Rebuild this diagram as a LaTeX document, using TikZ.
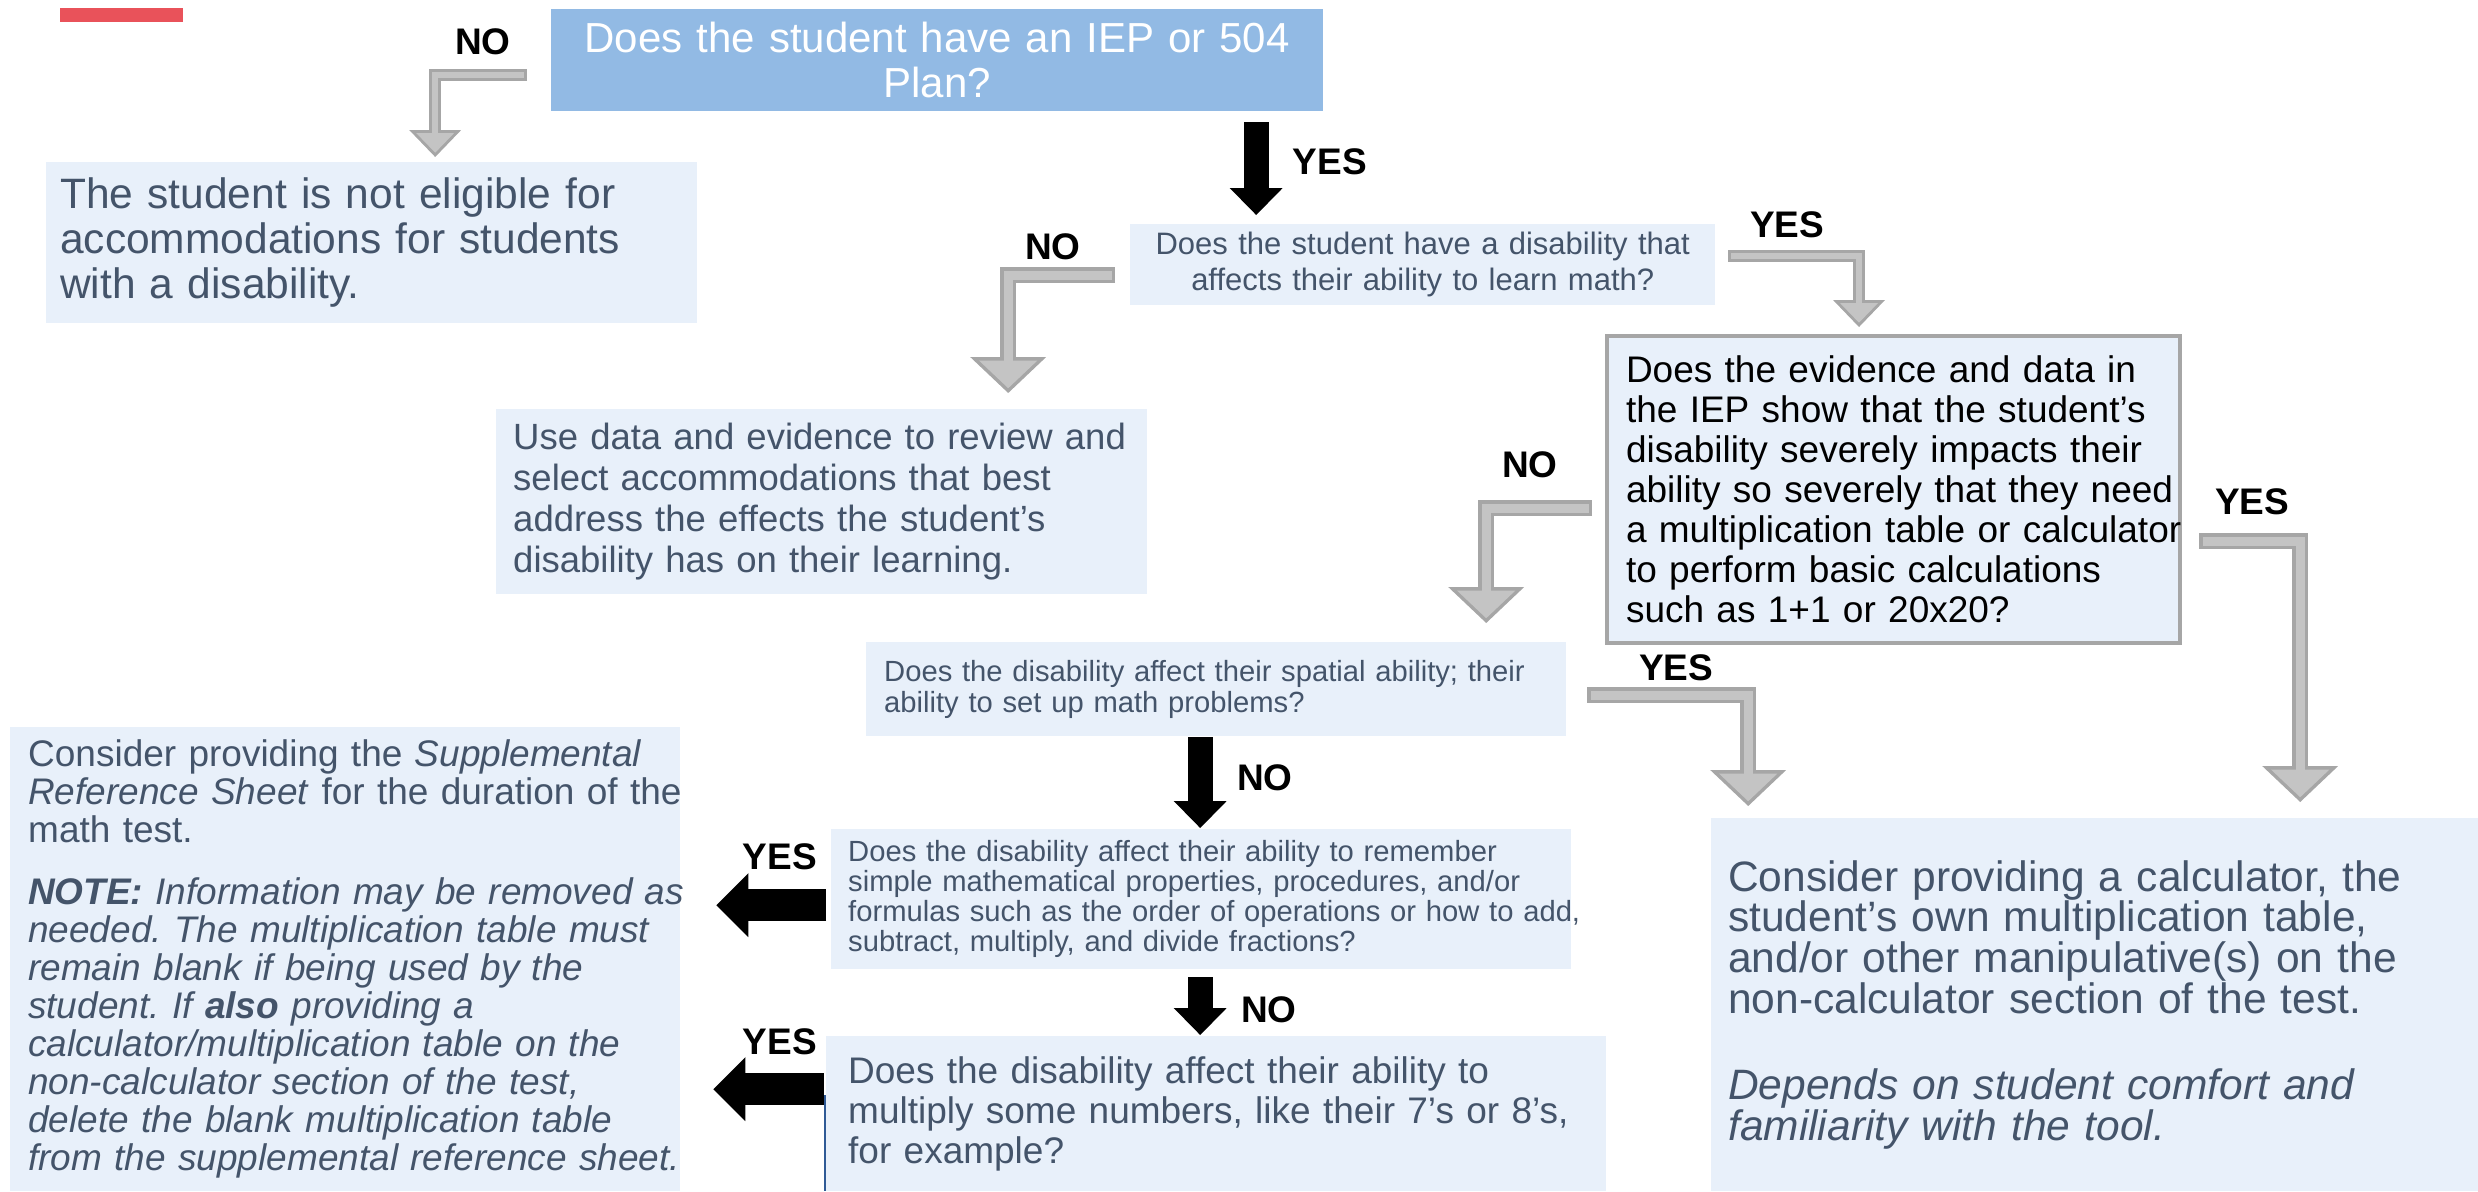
\documentclass[tikz,border=0pt]{standalone}
\usepackage{fontspec}
\setmainfont{Liberation Sans}
\usetikzlibrary{arrows.meta}
\usetikzlibrary{positioning}

\definecolor{paleblue}{HTML}{E8F0FA}
\definecolor{headblue}{HTML}{92BAE4}
\definecolor{slate}{HTML}{44546A}
\definecolor{barred}{HTML}{E9525A}
\definecolor{rimgrey}{HTML}{A6A6A6}
\definecolor{softgrey}{HTML}{C4C4C4}
\definecolor{edgeblue}{HTML}{2F5A96}

\tikzset{
        flownode/.style={anchor=north west, inner sep=0pt, align=left},
        % Box size: width and height
        boxsize/.style 2 args={minimum width=#1, text width=#1, minimum height=#2},
        % Left margin of the text, lines are broken by hand
        lead_in/.style={execute at begin node={\leftskip=#1\relax\rightskip=-60pt plus 1fil\relax\hyphenpenalty=10000\relax}},
        % Question at the top
        node_top/.style={flownode, align=center, fill=headblue, text=white},
        % Light boxes
        node_plain/.style={flownode, fill=paleblue, text=slate},
        % Framed box
        node_framed/.style={flownode, fill=paleblue, draw=rimgrey, line width=4pt, text=black},
        % YES / NO labels
        node_choice/.style={inner sep=0pt, font=\bfseries\fontsize{37pt}{40pt}\selectfont},
        % Grey bent arrows
        flow_small/.style={draw=rimgrey, line width=12pt, -{Triangle[length=27pt,width=52pt,line width=0pt]},
                postaction={draw=softgrey, line width=6pt, shorten >=4.3pt, shorten <=3pt,
                        -{Triangle[length=19.7pt,width=38pt,line width=0pt]}}},
        flow_big/.style={draw=rimgrey, line width=16pt, -{Triangle[length=36pt,width=76pt,line width=0pt]},
                postaction={draw=softgrey, line width=9pt, shorten >=4.8pt, shorten <=3.5pt,
                        -{Triangle[length=27.7pt,width=58.5pt,line width=0pt]}}},
        % Black arrows
        flow_down/.style={draw=black, line width=25pt, -{Triangle[length=27pt,width=53pt,line width=0pt]}},
        flow_left/.style={draw=black, line width=32pt, -{Triangle[length=32pt,width=64pt,line width=0pt]}}
}

\begin{document}
\frenchspacing
\begin{tikzpicture}[x=1pt, y=-1pt]
    \useasboundingbox (0,0) rectangle (2478,1191);

    \node[flownode, fill=barred, minimum width=123pt, minimum height=14pt] (bar) at (60,8) {};

    \node[node_top, boxsize={772pt}{102pt}, font=\fontsize{42pt}{45pt}\selectfont] (iep) at (551,9)
        {Does the student have an IEP or 504\\Plan?};
    \node[node_plain, boxsize={651pt}{161pt}, lead_in=14pt, font=\fontsize{42.5pt}{45pt}\selectfont] (noteligible) at (46,162)
        {The student is not eligible for\\accommodations for students\\with a disability.};
    \node[node_plain, align=center, boxsize={585pt}{81pt}, font=\fontsize{31pt}{36pt}\selectfont] (disability) at (1130,224)
        {Does the student have a disability that\\affects their ability to learn math?};
    \node[node_plain, boxsize={651pt}{185pt}, lead_in=17pt, font=\fontsize{36.5pt}{41pt}\selectfont] (review) at (496,409)
        {Use data and evidence to review and\\select accommodations that best\\address the effects the student's\\disability has on their learning.};
    \node[node_framed, boxsize={573pt}{307pt}, lead_in=19pt, font=\fontsize{37pt}{40pt}\selectfont] (evidence) at (1605,334)
        {Does the evidence and data in\\the IEP show that the student's\\disability severely impacts their\\ability so severely that they need\\a multiplication table or calculator\\to perform basic calculations\\such as 1+1 or 20x20?};
    \node[node_plain, boxsize={700pt}{94pt}, lead_in=18pt, font=\fontsize{29.2pt}{31pt}\selectfont] (spatial) at (866,642)
        {Does the disability affect their spatial ability; their\\ability to set up math problems?};
    \node[node_plain, boxsize={740pt}{140pt}, lead_in=17pt, font=\fontsize{29.2pt}{30pt}\selectfont] (remember) at (831,829)
        {Does the disability affect their ability to remember\\simple mathematical properties, procedures, and/or\\formulas such as the order of operations or how to add,\\subtract, multiply, and divide fractions?};
    \node[node_plain, boxsize={780pt}{155pt}, lead_in=22pt, font=\fontsize{37pt}{40pt}\selectfont] (multiply) at (826,1036)
        {Does the disability affect their ability to\\multiply some numbers, like their 7's or 8's,\\for example?};
    \node[node_plain, boxsize={670pt}{464pt}, lead_in=18pt, font=\fontsize{37pt}{38pt}\selectfont] (refsheet) at (10,727)
        {Consider providing the \textit{Supplemental}\\\textit{Reference Sheet} for the duration of the\\math test.\\[24pt]
        \textit{\textbf{NOTE:} Information may be removed as}\\\textit{needed. The multiplication table must}\\\textit{remain blank if being used by the}\\\textit{student. If \textbf{also} providing a}\\\textit{calculator/multiplication table on the}\\\textit{non-calculator section of the test,}\\\textit{delete the blank multiplication table}\\\textit{from the supplemental reference sheet.}};
    \node[node_plain, boxsize={767pt}{373pt}, lead_in=17pt, font=\fontsize{42.5pt}{38.5pt}\selectfont] (calculator) at (1711,818)
        {Consider providing a calculator, the\\student's own multiplication table,\\and/or other manipulative(s) on the\\non-calculator section of the test.\\[48pt]
        \textit{Depends on student comfort and}\\\textit{familiarity with the tool.}};

    \draw[edgeblue, line width=2pt] ([xshift=-1pt,yshift=-59pt]multiply.north west) -- ([xshift=-1pt]multiply.south west);

    % grey connectors
    \draw[flow_small] ([xshift=-24pt,yshift=-15pt]iep.west) -| ([xshift=63.5pt,yshift=5pt]noteligible.north);
    \draw[flow_big] ([xshift=-15pt,yshift=-10.5pt]disability.west) -| ([xshift=186.5pt,yshift=16pt]review.north);
    \draw[flow_small] ([xshift=13pt,yshift=8.5pt]disability.east) -| ([xshift=-34.5pt,yshift=7pt]evidence.north);
    \draw[flow_big] ([xshift=-13pt,yshift=-18.5pt]evidence.west) -| ([xshift=270pt,yshift=19pt]spatial.north);
    \draw[flow_big] ([xshift=17pt,yshift=-51.5pt]evidence.east) -| ([xshift=205.5pt,yshift=16pt]calculator.north);
    \draw[flow_big] ([xshift=21pt,yshift=-6pt]spatial.east) -| ([xshift=-346.5pt,yshift=12pt]calculator.north);

    % black connectors
    \draw[flow_down] ([xshift=319pt,yshift=-11pt]iep.south) -- ([xshift=-166.5pt,yshift=9pt]disability.north);
    \draw[flow_down] ([xshift=-16pt,yshift=-1pt]spatial.south) -- ([xshift=-1pt,yshift=1pt]remember.north);
    \draw[flow_down] ([xshift=-1pt,yshift=-8pt]remember.south) -- ([xshift=-16pt,yshift=1pt]multiply.north);
    \draw[flow_left] ([xshift=-5pt,yshift=-6pt]remember.west) -- ([xshift=36pt,yshift=54pt]refsheet.east);
    \draw[flow_left] ([xshift=-2pt,yshift=24.5pt]multiply.west) -- ([xshift=33pt,yshift=-130pt]refsheet.east);

    \node[node_choice] (no_iep) at (483,42) {NO};
    \node[node_choice] (yes_iep) at (1330,162) {YES};
    \node[node_choice] (no_math) at (1053,247) {NO};
    \node[node_choice] (yes_math) at (1787,225) {YES};
    \node[node_choice] (no_severe) at (1530,465) {NO};
    \node[node_choice] (yes_severe) at (2252,502) {YES};
    \node[node_choice] (yes_spatial) at (1676,668) {YES};
    \node[node_choice] (no_spatial) at (1265,778) {NO};
    \node[node_choice] (no_remember) at (1269,1010) {NO};
    \node[node_choice] (yes_remember) at (780,857) {YES};
    \node[node_choice] (yes_multiply) at (780,1042) {YES};
\end{tikzpicture}
\end{document}
